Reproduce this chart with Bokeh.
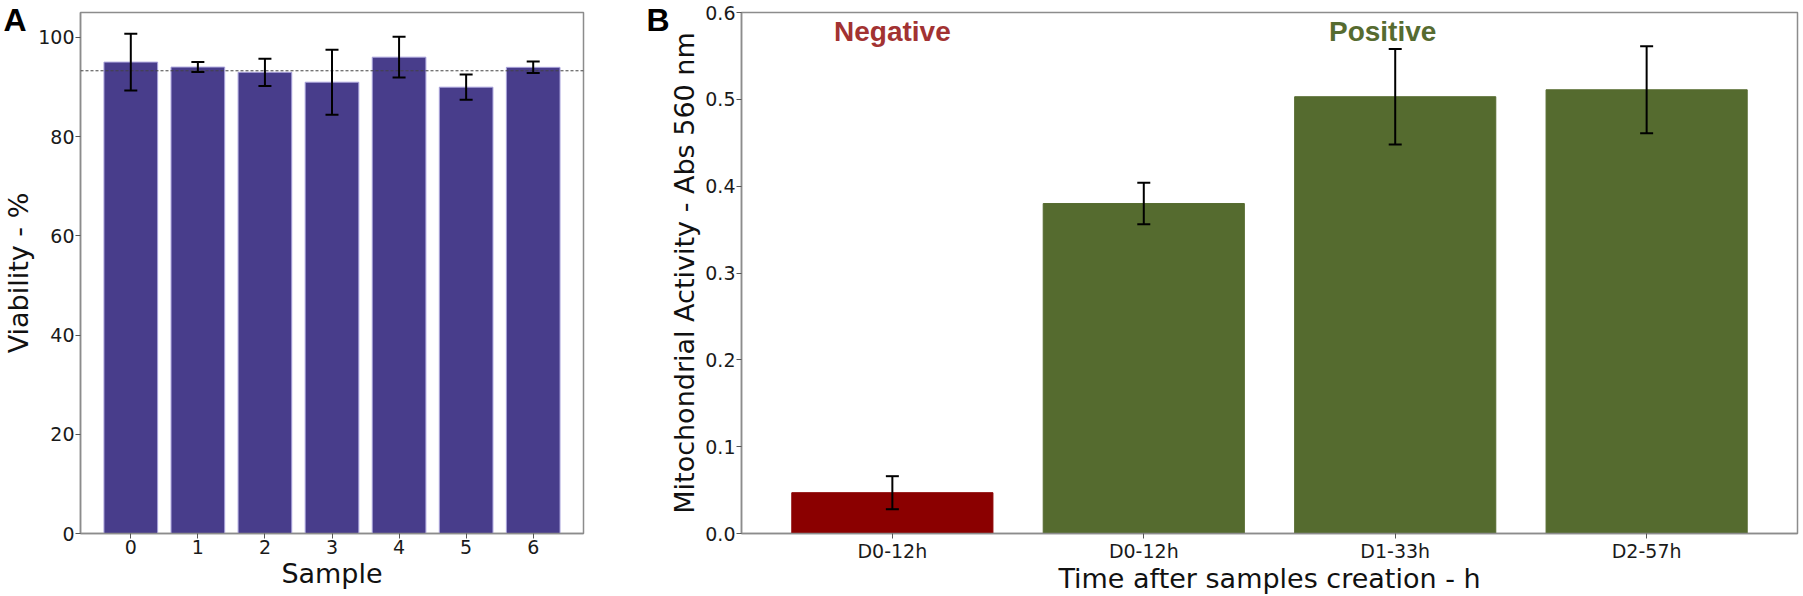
import numpy as np
from bokeh.plotting import figure
from bokeh.models import (ColumnDataSource, Whisker, TeeHead, Span, Label,
                          FixedTicker, PrintfTickFormatter, Range1d)
from bokeh.layouts import row
from bokeh.embed import file_html
from bokeh.resources import INLINE

# ---------------- data ----------------
samples = [0, 1, 2, 3, 4, 5, 6]
viability = [95.0, 94.0, 92.95, 90.95, 96.0, 89.95, 93.95]
viability_err = [5.7, 1.0, 2.75, 6.55, 4.1, 2.55, 1.15]
viability_ticks = [0, 20, 40, 60, 80, 100]

time_pos = [0, 1, 2, 3]
time_labels = ["D0-12h", "D0-12h", "D1-33h", "D2-57h"]
activity = [0.047, 0.380, 0.503, 0.511]
activity_err = [0.019, 0.024, 0.055, 0.050]
activity_group = ["Negative", "Positive", "Positive", "Positive"]
activity_ticks = [0.0, 0.1, 0.2, 0.3, 0.4, 0.5, 0.6]

group_colors = {"Negative": "#8b0000", "Positive": "#556b2f"}
group_text_colors = {"Negative": "#a23232", "Positive": "#566b30"}

FRAME = "#8c8c8c"
TOP = 12
FRAME_H = 521


def style(p, tick_px, label_px, xlab, ylab, tick_standoff, lab_standoff_x, lab_standoff_y):
    p.xgrid.visible = False
    p.ygrid.visible = False
    p.outline_line_color = FRAME
    p.outline_line_width = 1.5
    p.background_fill_color = "white"
    p.border_fill_color = "white"
    for ax in p.axis:
        ax.axis_line_color = FRAME
        ax.axis_line_width = 1.5
        ax.major_tick_line_color = "#555555"
        ax.major_tick_out = 5
        ax.major_tick_in = 0
        ax.minor_tick_out = 0
        ax.minor_tick_in = 0
        ax.major_label_text_font = "DejaVu Sans"
        ax.major_label_text_font_size = f"{tick_px}px"
        ax.major_label_text_color = "#1a1a1a"
        ax.axis_label_text_font = "DejaVu Sans"
        ax.axis_label_text_font_style = "normal"
        ax.axis_label_text_color = "#111111"
        ax.axis_label_text_font_size = f"{label_px}px"
        ax.major_label_standoff = tick_standoff
    p.xaxis.axis_label = xlab
    p.yaxis.axis_label = ylab
    p.xaxis.axis_label_standoff = lab_standoff_x
    p.yaxis.axis_label_standoff = lab_standoff_y


def panel_letter(p, letter, offset):
    # bold panel letter drawn as the figure title, pulled down beside the frame top
    p.title.text = letter
    p.title.text_font = "Liberation Sans"
    p.title.text_font_style = "bold"
    p.title.text_font_size = "32px"
    p.title.text_color = "black"
    p.title.align = "left"
    p.title.vertical_align = "bottom"
    p.title.offset = offset
    p.title.standoff = -50


def whisker(src):
    w = Whisker(base="x", upper="upper", lower="lower", source=src,
                dimension="height", line_width=2, line_color="black",
                upper_head=TeeHead(size=13, line_width=2, line_color="black"),
                lower_head=TeeHead(size=13, line_width=2, line_color="black"))
    w.level = "overlay"
    return w


# ---------------- panel A ----------------
pa = figure(frame_width=503, frame_height=FRAME_H, min_border_left=80,
            min_border_right=20, min_border_top=TOP, min_border_bottom=0,
            x_range=Range1d(-0.75, 6.75), y_range=Range1d(0, 105),
            output_backend="svg", toolbar_location=None)
src_a = ColumnDataSource(dict(
    x=samples, top=viability,
    upper=[v + e for v, e in zip(viability, viability_err)],
    lower=[v - e for v, e in zip(viability, viability_err)]))
pa.vbar(x="x", top="top", width=0.8, bottom=0, source=src_a,
        fill_color="#483d8b", line_color="#aaa4dc", line_width=1)
pa.add_layout(Span(location=float(np.mean(viability)), dimension="width",
                   line_dash="3 2", line_width=1, line_color="#444444"))
pa.add_layout(whisker(src_a))
style(pa, 19, 27, "Sample", "Viability - %", 1, 1, 1)
pa.xaxis.ticker = FixedTicker(ticks=samples)
pa.yaxis.ticker = FixedTicker(ticks=viability_ticks)
panel_letter(pa, "A", -77)

# ---------------- panel B ----------------
pb = figure(frame_width=1056, frame_height=FRAME_H, min_border_left=138,
            min_border_right=3, min_border_top=TOP, min_border_bottom=0,
            x_range=Range1d(-0.6, 3.6), y_range=Range1d(0, 0.6),
            output_backend="svg", toolbar_location=None)
src_b = ColumnDataSource(dict(
    x=time_pos, top=activity,
    color=[group_colors[g] for g in activity_group],
    upper=[v + e for v, e in zip(activity, activity_err)],
    lower=[v - e for v, e in zip(activity, activity_err)]))
pb.vbar(x="x", top="top", width=0.8, bottom=0, source=src_b,
        fill_color="color", line_color="color", line_width=1)
pb.add_layout(whisker(src_b))
style(pb, 19, 27, "Time after samples creation - h",
      "Mitochondrial Activity - Abs 560 nm", 1, -2, 2)
pb.xaxis.ticker = FixedTicker(ticks=time_pos)
pb.xaxis.major_label_overrides = {i: lab for i, lab in zip(time_pos, time_labels)}
pb.yaxis.ticker = FixedTicker(ticks=activity_ticks)
pb.yaxis.formatter = PrintfTickFormatter(format="%.1f")
panel_letter(pb, "B", -95)

label_y = 0.578
pb.add_layout(Label(x=0, y=label_y, text="Negative", text_align="center",
                    text_baseline="alphabetic", text_font="Liberation Sans",
                    text_font_style="bold", text_font_size="28px",
                    text_color=group_text_colors["Negative"]))
pb.add_layout(Label(x=1.95, y=label_y, text="Positive", text_align="center",
                    text_baseline="alphabetic", text_font="Liberation Sans",
                    text_font_style="bold", text_font_size="28px",
                    text_color=group_text_colors["Positive"]))

layout = row(pa, pb)
open("out.html", "w").write(file_html(layout, INLINE))
